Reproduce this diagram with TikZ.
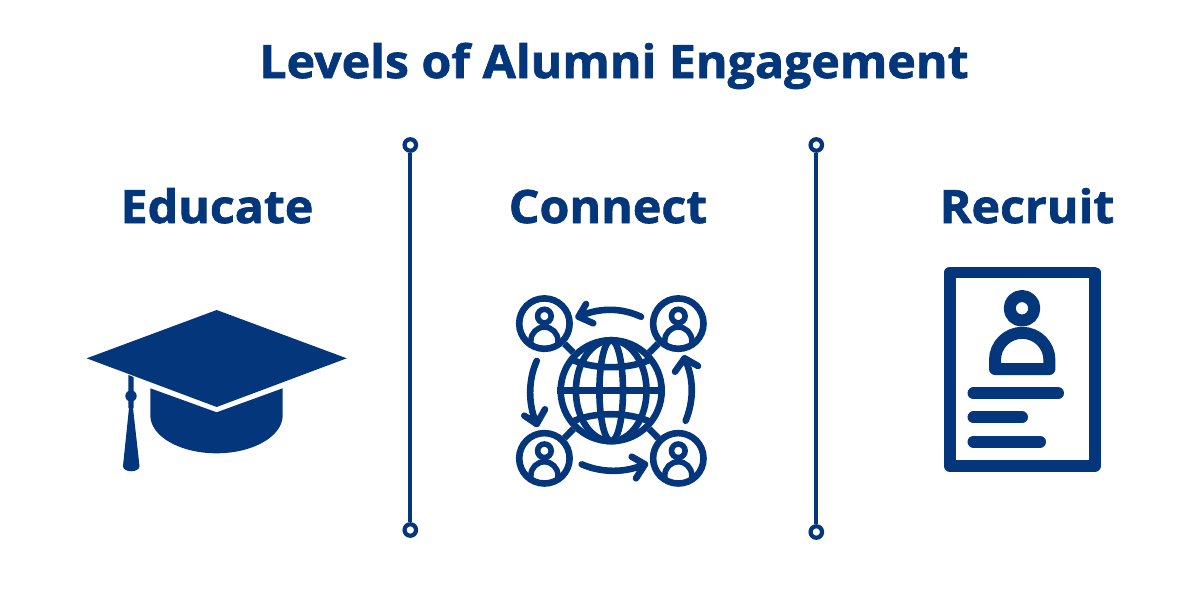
\documentclass[tikz,border=0pt]{standalone}
\usepackage{fontspec}
\setmainfont{Open Sans}[BoldFeatures={FakeBold=1.5,FakeStretch=1.05}]
\definecolor{alumniblue}{HTML}{03367A}
\tikzset{
	heading/.style={anchor=base,font=\bfseries\fontsize{46}{52}\selectfont,text=alumniblue,inner sep=0pt},
	ringend/.style={circle,draw=alumniblue,fill=white,line width=4.2pt,minimum size=11.5pt,inner sep=0pt},
	divider/.style={draw=alumniblue,line width=4pt},
	iconline/.style={draw=alumniblue,line width=6.6pt,line cap=round,line join=round},
	cardline/.style={draw=alumniblue,line width=12pt,line cap=round,line join=round},
	personring/.style={circle,draw=alumniblue,line width=6.6pt,minimum size=50.4pt,inner sep=0pt},
	globering/.style={circle,draw=alumniblue,line width=6.6pt,minimum size=101pt,inner sep=0pt}
}
\begin{document}
\begin{tikzpicture}[x=1pt,y=-1pt]
	\useasboundingbox (0,0) rectangle (1200,600);
	
	\node[heading] (title) at (614,78) {Levels of Alumni Engagement};
	\node[heading] (educate) at (217,223) {Educate};
	\node[heading] (connect) at (608,223) {Connect};
	\node[heading] (recruit) at (1027,223) {Recruit};
	
	% dividers
	\node[ringend] (ringa) at (410.3,145) {};
	\node[ringend] (ringb) at (410.3,530) {};
	\node[ringend] (ringc) at (816.3,145) {};
	\node[ringend] (ringd) at (816.3,532) {};
	\draw[divider] (ringa) -- (ringb);
	\draw[divider] (ringc) -- (ringd);
	
	% cap
	\fill[alumniblue] (216.7,310) -- (346.7,358.3) -- (216.7,407) -- (86.7,358.3) -- cycle;
	\fill[alumniblue] (150.3,388.3) -- (216.7,412.3) -- (282.7,388.3) -- (282.7,415.3)
		arc[start angle=360,end angle=180,x radius=66.2pt,y radius=38pt] -- cycle;
	\fill[alumniblue] (128.4,375) -- (133.5,377) -- (133.5,408) -- (128.4,408) -- cycle;
	\fill[alumniblue] (131,396) circle (5.7pt);
	\fill[alumniblue] (129,408) -- (133,408) -- (139.5,466) .. controls (139.5,473) and (123,473) .. (123,466) -- cycle;
	
	% globe
	\node[globering] (globe) at (611.2,390.7) {};
	\draw[iconline,line cap=butt] (globe.west) -- (globe.east);
	\draw[iconline,line cap=butt] (globe.center) ellipse (11.8pt and 50.5pt);
	\draw[iconline,line cap=butt] (globe.center) ellipse (35.3pt and 50.5pt);
	\draw[iconline,line cap=butt] (570,358.7) .. controls (592,370) and (630,370) .. (652,358.7);
	\draw[iconline,line cap=butt] (570,422.7) .. controls (592,411.4) and (630,411.4) .. (652,422.7);
	
	% people round the globe
	\foreach \who/\cx/\cy in {pa/544.4/323.6,pb/678.3/323.6,pc/544.4/458.3,pd/678.3/458.3}{
		\node[personring] (\who) at (\cx,\cy) {};
		\draw[draw=alumniblue,line width=5.6pt] (\cx,\cy-7.5) circle (6.8pt);
		\draw[draw=alumniblue,line width=5.6pt] (\cx-13.5,\cy+21) -- (\cx-13.5,\cy+17)
			arc[start angle=180,end angle=0,radius=13.5pt] -- (\cx+13.5,\cy+21);
		\draw[draw=alumniblue,line width=6.6pt] (\who) -- (globe);
	}
	
	% arrows between the people
	\draw[iconline] (641,316.7) .. controls (622,308) and (600,307) .. (578.5,316.7) (586,304) -- (578.5,316.7) -- (593.3,323.3);
	\draw[iconline] (536.7,361) .. controls (528,380) and (528,405) .. (536.7,424) (524.3,415.7) -- (536.7,424) -- (545,409.3);
	\draw[iconline] (581.7,464.3) .. controls (602,473) and (625,473) .. (645,464.3) (631.7,456.7) -- (645,464.3) -- (636,478.3);
	\draw[iconline] (685.7,420.7) .. controls (694,400) and (694,378) .. (684.5,358.3) (675,371.7) -- (684.5,358.3) -- (698,366);
	
	% card
	\draw[cardline,line width=11.7pt] (949.8,272.5) rectangle (1094.8,465.8);
	\draw[cardline] (1022,308.3) circle (12.3pt);
	\draw[cardline] (995,369) -- (995,360) arc[start angle=180,end angle=0,radius=27.2pt] -- (1049.4,369) -- cycle;
	\draw[cardline] (973.5,393.3) -- (1058,393.3);
	\draw[cardline] (973.5,417.3) -- (1022,417.3);
	\draw[cardline] (973.5,441.7) -- (1040,441.7);
\end{tikzpicture}
\end{document}
